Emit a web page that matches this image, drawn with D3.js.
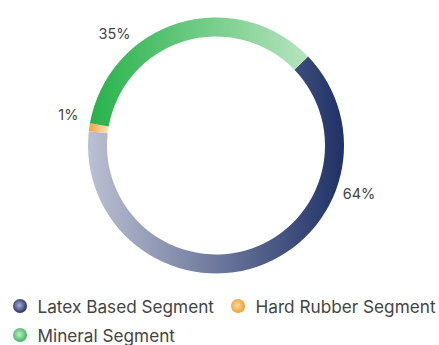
<!DOCTYPE html>
<html>
<head>
<meta charset="utf-8">
<script src="https://cdn.jsdelivr.net/npm/d3@7/dist/d3.min.js"></script>
<style>
  html, body { margin: 0; padding: 0; background: #fff; }
  svg { display: block; font-family: Inter, "Noto Sans", Arial, sans-serif; }
</style>
</head>
<body>
<svg id="chart" width="439" height="345"></svg>
<script>
// Segment shares (percent)
const segments = ["Latex Based Segment", "Hard Rubber Segment", "Mineral Segment"];
const shares = [64, 1, 35];
const shareLabels = ["64%", "1%", "35%"];

// Gradient colours per segment: [start, end] across the arc's box, left to right
const arcColors = [
  ["#bcc0d3", "#1f3166"],
  ["#f0a43c", "#fce3c0"],
  ["#27b24b", "#b6e4be"]
];
// Legend bullet colours: [highlight, rim]
const dotColors = [
  ["#a9aed3", "#27306b"],
  ["#fcd9a4", "#ef9e2e"],
  ["#c4ecca", "#3fb75c"]
];

const width = 439, height = 345;
const cx = 216, cy = 145.5;
const outerR = 128, innerR = 109;
const startDeg = 46;

const svg = d3.select("#chart");
const defs = svg.append("defs");

arcColors.forEach((c, i) => {
  const g = defs.append("linearGradient").attr("id", "arcGrad" + i)
    .attr("x1", 0).attr("y1", 0).attr("x2", 1).attr("y2", 0);
  g.append("stop").attr("offset", "0%").attr("stop-color", c[0]);
  g.append("stop").attr("offset", "100%").attr("stop-color", c[1]);
});
dotColors.forEach((c, i) => {
  const g = defs.append("radialGradient").attr("id", "dotGrad" + i)
    .attr("cx", "45%").attr("cy", "45%").attr("r", "55%");
  g.append("stop").attr("offset", "0%").attr("stop-color", c[0]);
  g.append("stop").attr("offset", "100%").attr("stop-color", c[1]);
});

const toRad = d => d * Math.PI / 180;
const pie = d3.pie().sort(null).value(d => d.value)
  .startAngle(toRad(startDeg)).endAngle(toRad(startDeg + 360));
const arcs = pie(shares.map((v, i) => ({ value: v, index: i })));

const arc = d3.arc().innerRadius(innerR).outerRadius(outerR);

const ring = svg.append("g").attr("transform", `translate(${cx},${cy})`);
ring.selectAll("path.seg").data(arcs).join("path")
  .attr("class", "seg")
  .attr("d", arc)
  .attr("fill", d => `url(#arcGrad${d.data.index})`);

// Percentage labels sit outside the ring, part-way along each segment
const labelR = 151;
const labelFrac = [0.272, 0.5, 0.30];
const labelNudge = [0, toRad(3.8), 0];
ring.selectAll("text.pct").data(arcs).join("text")
  .attr("class", "pct")
  .each(function(d) {
    const i = d.data.index;
    const a = d.startAngle + (d.endAngle - d.startAngle) * labelFrac[i] + labelNudge[i];
    d3.select(this)
      .attr("x", labelR * Math.sin(a))
      .attr("y", -labelR * Math.cos(a));
  })
  .attr("text-anchor", "middle")
  .attr("dominant-baseline", "central")
  .attr("font-size", 14.5)
  .attr("fill", "#444")
  .text((d, i) => shareLabels[i]);

// Legend
const legendPos = [[20, 306], [238, 306], [20, 335]];
const legend = svg.append("g");
segments.forEach((name, i) => {
  const [x, y] = legendPos[i];
  legend.append("circle").attr("cx", x).attr("cy", y).attr("r", 7)
    .attr("fill", `url(#dotGrad${i})`);
  legend.append("text").attr("x", x + 17.5).attr("y", y)
    .attr("dominant-baseline", "central")
    .attr("font-size", 17.2).attr("fill", "#444")
    .text(name);
});
</script>
</body>
</html>
